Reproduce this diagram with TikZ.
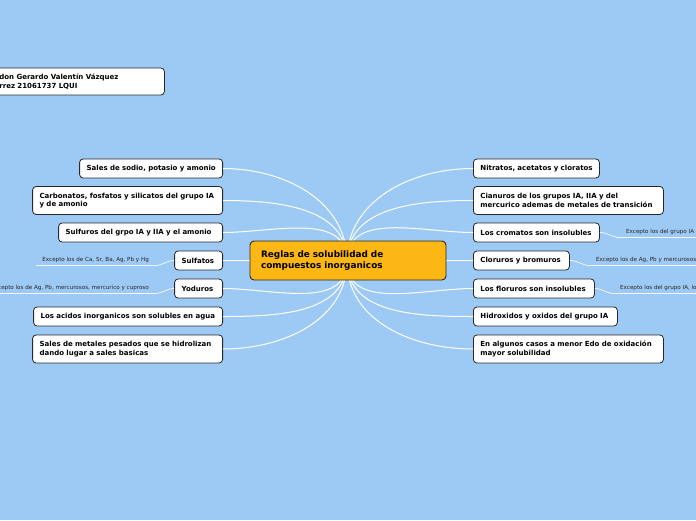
\documentclass[tikz,border=0pt]{standalone}
\usepackage{fontspec}
\setmainfont{DejaVu Sans}
\definecolor{bg}{RGB}{157,201,245}
\definecolor{hub}{RGB}{252,183,20}
\definecolor{edge}{RGB}{40,40,40}
\begin{document}
\begin{tikzpicture}[x=1pt,y=-1pt,
  box/.style={draw=edge,line width=0.8pt,fill=white,rounded corners=3.5pt,
    inner xsep=7pt,inner ysep=2pt,minimum height=19pt,align=left,
    font=\fontsize{7}{8.8}\selectfont\bfseries},
  hubbox/.style={draw=edge,line width=0.9pt,fill=hub,rounded corners=4pt,
    inner xsep=11pt,minimum height=39pt,align=left,
    font=\fontsize{8.9}{11}\selectfont\bfseries},
  note/.style={inner xsep=6pt,inner ysep=2.5pt,font=\fontsize{5.6}{6}\selectfont,text=black!85},
  link/.style={draw=white,line width=1pt},
  nlink/.style={draw=white!85!bg,line width=0.8pt}]
\useasboundingbox (0,0) rectangle (696,520);
\fill[bg] (0,0) rectangle (696,520);
\coordinate (c) at (347,261);
% left nodes
\node[box,text width=135pt,inner xsep=4pt,anchor=east] (l1) at (223,168.5) {\hspace*{3pt}Sales de sodio, potasio y amonio};
\node[box,text width=176pt,anchor=east,minimum height=28pt] (l2) at (223,200.5) {Carbonatos, fosfatos y silicatos del grupo IA\\y de amonio};
\node[box,text width=150pt,anchor=east] (l3) at (223,232.5) {Sulfuros del grpo IA y IIA y el amonio};
\node[box,text width=34pt,anchor=east] (l4) at (223,260.5) {Sulfatos};
\node[box,text width=34pt,anchor=east] (l5) at (223,288.5) {Yoduros};
\node[box,text width=175pt,anchor=east] (l6) at (223,316.5) {Los acidos inorganicos son solubles en agua};
\node[box,text width=176pt,anchor=east,minimum height=28pt] (l7) at (223,349) {Sales de metales pesados que se hidrolizan\\dando lugar a sales basicas};
% right nodes
\node[box,text width=118pt,inner xsep=4pt,anchor=west] (r1) at (473,168.5) {\hspace*{3pt}Nitratos, acetatos y cloratos};
\node[box,text width=176pt,anchor=west,minimum height=28pt] (r2) at (473,200.5) {Cianuros de los grupos IA, IIA y del\\mercurico ademas de metales de transición};
\node[box,text width=112pt,anchor=west] (r3) at (473,232.5) {Los cromatos son insolubles};
\node[box,text width=82pt,anchor=west] (r4) at (473,260.5) {Cloruros y bromuros};
\node[box,text width=107pt,anchor=west] (r5) at (473,288.5) {Los floruros son insolubles};
\node[box,text width=130pt,anchor=west] (r6) at (473,316.5) {Hidroxidos y oxidos del grupo IA};
\node[box,text width=176pt,anchor=west,minimum height=28pt] (r7) at (473,349) {En algunos casos a menor Edo de oxidación\\mayor solubilidad};
% connectors (drawn before hub so they sit behind it)
\draw[link] (l1.east) to[out=0,in=90] (c);
\draw[link] (l2.east) to[out=0,in=90] (c);
\draw[link] (l3.east) to[out=0,in=90] (c);
\draw[link] (l4.east) -- (c);
\draw[link] (l5.east) to[out=0,in=-90] (c);
\draw[link] (l6.east) to[out=0,in=-90] (c);
\draw[link] (l7.east) to[out=0,in=-90] (c);
\draw[link] (r1.west) to[out=180,in=90] (c);
\draw[link] (r2.west) to[out=180,in=90] (c);
\draw[link] (r3.west) to[out=180,in=90] (c);
\draw[link] (r4.west) -- (c);
\draw[link] (r5.west) to[out=180,in=-90] (c);
\draw[link] (r6.west) to[out=180,in=-90] (c);
\draw[link] (r7.west) to[out=180,in=-90] (c);
\node[hubbox,text width=174pt] (hub) at (348,260.5) {Reglas de solubilidad de\\compuestos inorganicos};
% author
\node[box,text width=157pt,anchor=west,minimum height=27pt,inner xsep=8pt] (au) at (-9,81.5) {don Gerardo Valentín Vázquez\\rrez 21061737 LQUI};
% notes
\node[note,anchor=south east] (n1) at (155,265.5) {Excepto los de Ca, Sr, Ba, Ag, Pb y Hg};
\node[note,anchor=south east] (n2) at (155,293.5) {Excepto los de Ag, Pb, mercurosos, mercurico y cuproso};
\node[note,anchor=south west] (n3) at (620,237.5) {Excepto los del grupo IA};
\node[note,anchor=south west] (n4) at (590,265.5) {Excepto los de Ag, Pb y mercurosos};
\node[note,anchor=south west] (n5) at (614,293.5) {Excepto los del grupo IA, lo};
\coordinate (e3) at (700,237.5);
\coordinate (e4) at (700,265.5);
\coordinate (e5) at (700,293.5);
\draw[nlink] (l4.west) to[out=180,in=0] (n1.south east) -- (n1.south west);
\draw[nlink] (l5.west) to[out=180,in=0] (n2.south east) -- (n2.south west);
\draw[nlink] (r3.east) to[out=0,in=180] (n3.south west) -- (e3);
\draw[nlink] (r4.east) to[out=0,in=180] (n4.south west) -- (e4);
\draw[nlink] (r5.east) to[out=0,in=180] (n5.south west) -- (e5);
\end{tikzpicture}
\end{document}
